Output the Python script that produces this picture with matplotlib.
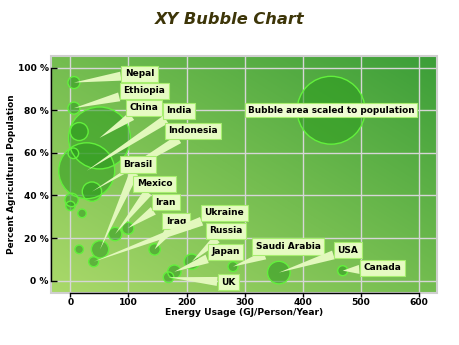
import numpy as np
import matplotlib
matplotlib.use("Agg")
import matplotlib.pyplot as plt
from matplotlib.colors import LinearSegmentedColormap
from matplotlib.patches import Rectangle

# energy usage (GJ/person/year), agricultural population (%), population (millions)
countries = ["Nepal", "Ethiopia", "China", "India", "Indonesia", "Brasil", "Mexico",
             "Iran", "Iraq", "Ukraine", "Russia", "Japan", "UK", "Saudi Arabia",
             "USA", "Canada", "", "", "", "", "", ""]
energy = [6, 6, 50, 28, 37, 51, 77, 99, 145, 40, 209, 179, 169, 280, 359, 469,
          15, 5, 2, 0, 20, 15]
agri = [93, 81, 67, 51.6, 41.8, 14.7, 21.9, 24.6, 14.7, 8.9, 8.9, 4.2, 1.6, 6.6,
        3.8, 4.7, 70, 59.8, 37.9, 35.1, 31.6, 14.7]
population = [49, 49, 1300, 1060, 127, 102, 61, 49, 44, 34, 80, 61, 38, 34, 173, 34,
              110, 38, 61, 30, 25, 25]

# where the callout boxes sit
label_pos = [(119, 97.2), (127, 89.2), (127, 81.2), (187, 79.7), (211, 70.4),
             (116, 54.5), (145, 45.4), (164, 36.8), (182, 28), (265, 31.9),
             (268, 23.5), (267, 13.6), (272, -0.8), (375, 16), (478, 14.3),
             (537, 6.1)]

legend_pop = 1560
legend_xy = (449, 80)

size_k = 1.53  # marker area (pt^2) per million people

fig = plt.figure(figsize=(4.6, 3.45), dpi=100)
ax = fig.add_axes([0.1115, 0.150, 0.8392, 0.6885])
ax.set_xlim(-33, 632)
ax.set_ylim(-5.9, 105.6)

# gradient background
cmap = LinearSegmentedColormap.from_list("bg", ["#aad96a", "#74bd50", "#3b9e38"])
gx, gy = np.meshgrid(np.linspace(0, 1, 200), np.linspace(0, 1, 200))
ax.imshow((gx + gy) / 2, cmap=cmap, extent=(0, 1, 0, 1), transform=ax.transAxes,
          origin="lower", aspect="auto", zorder=0, interpolation="bilinear")

ax.set_xticks(range(0, 601, 100))
ax.set_yticks(range(0, 101, 20))
ax.set_yticklabels([f"{v} %" for v in range(0, 101, 20)])
ax.grid(True, color="#d6d6d6", lw=1.0, zorder=0.5)
ax.set_axisbelow(True)

for s in ["top", "right"]:
    ax.spines[s].set_visible(False)
ax.add_patch(Rectangle((0, 0), 1, 1, transform=ax.transAxes, fill=False,
                       ec="#cfcfcf", lw=1.5, zorder=1, clip_on=False))
ax.spines["left"].set_bounds(0, 100)
ax.spines["bottom"].set_bounds(0, 600)
for s in ["left", "bottom"]:
    ax.spines[s].set_color("black")
    ax.spines[s].set_linewidth(1.0)
    ax.spines[s].set_zorder(2)

ax.tick_params(axis="x", direction="out", length=3, width=1, labelsize=6.6, pad=0.5)
ax.tick_params(axis="y", direction="in", length=4, width=1, labelsize=6.6, pad=2)
for t in ax.get_xticklabels() + ax.get_yticklabels():
    t.set_fontweight("bold")

ax.set_xlabel("Energy Usage (GJ/Person/Year)", fontsize=6.6, fontweight="bold")
ax.set_ylabel("Percent Agricultural Population", fontsize=6.4, fontweight="bold")
ax.xaxis.set_label_coords(0.5, -0.062)
ax.yaxis.set_label_coords(-0.092, 0.5)

sizes = [p * size_k for p in population]
ax.scatter(energy, agri, s=sizes, facecolor="#2a9a1c", alpha=0.55, edgecolor="none", zorder=3)
ax.scatter(energy, agri, s=sizes, facecolor="none", edgecolor="#62f03c", lw=1.0, zorder=3)

# legend bubble
ax.scatter([legend_xy[0]], [legend_xy[1]], s=legend_pop * size_k, facecolor="#2a9a1c",
           alpha=0.55, edgecolor="none", zorder=3)
ax.scatter([legend_xy[0]], [legend_xy[1]], s=legend_pop * size_k, facecolor="none",
           edgecolor="#62f03c", lw=1.0, zorder=3)
ax.text(legend_xy[0], legend_xy[1], "Bubble area scaled to population", ha="center",
        va="center", fontsize=6.4, fontweight="bold", zorder=5,
        bbox=dict(boxstyle="square,pad=0.3", fc="#effdd2", ec="#a8ee70", lw=0.8))

box = dict(boxstyle="square,pad=0.4", fc="#e6fbc2", ec="#a8ee70", lw=0.8)
for name, x, y, (lx, ly) in zip(countries, energy, agri, label_pos):
    ax.annotate(name, xy=(x, y), xytext=(lx, ly), ha="center", va="center",
                fontsize=6.5, fontweight="bold", bbox=box, zorder=4,
                arrowprops=dict(arrowstyle="wedge,tail_width=1.0,shrink_factor=0.5",
                                fc="#e2f8bc", ec="none", shrinkA=0, shrinkB=0))

fig.text(0.5, 1 - 20 / 345, "XY Bubble Chart", ha="center", va="center", fontsize=11.7,
         fontweight="bold", style="italic", color="#3d3508")

plt.savefig("out.png", dpi=100)
